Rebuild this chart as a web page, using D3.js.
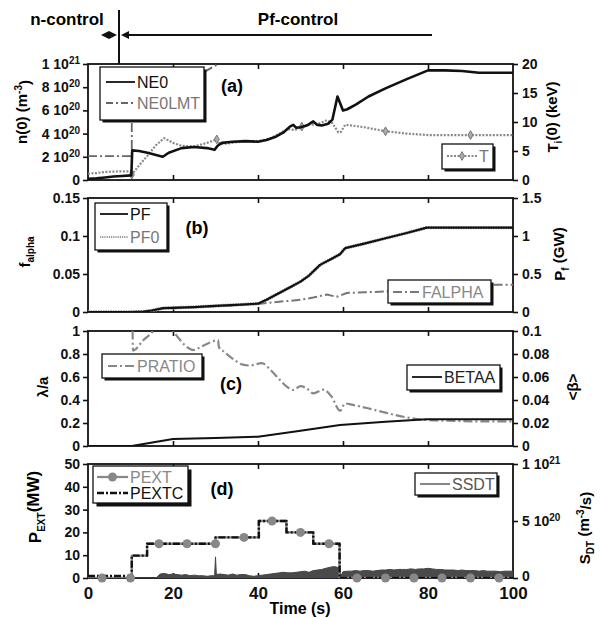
<!DOCTYPE html>
<html><head><meta charset="utf-8">
<script src="https://cdn.jsdelivr.net/npm/d3@7"></script>
<style>
body{margin:0;background:#fff;}
text{font-family:"Liberation Sans",Arial,sans-serif;}
</style></head>
<body><svg id="c" width="600" height="618"></svg>
<script>
// ---------------- DATA ----------------
// Panel (a): NE0 (1e20 m^-3), NE0LMT (1e20 m^-3), T (keV)
const ne0Time = [0,2,4,6,8,10.2,10.4,12,14,16,17.6,19,22,25,28,29.8,30.5,31.5,34,37,40,42,44,46,47.5,48.3,49,50,51.5,53,54,55,56.5,57.5,58.7,60,61,63,66,70,75,80,84,88,92,100];
const ne0Val  = [0.1,0.15,0.22,0.3,0.35,0.4,2.55,2.5,2.35,2.15,2.0,2.35,2.75,2.85,2.75,2.6,2.95,3.2,3.3,3.35,3.3,3.45,3.7,4.1,4.6,4.75,4.5,4.55,4.7,5.05,4.75,4.7,4.85,5.2,7.2,6.0,6.1,6.5,7.2,7.9,8.7,9.45,9.45,9.4,9.25,9.25];
const ne0lmtTime = [0,10.3,10.3,30.6,40];
const ne0lmtVal  = [2.05,2.05,5.7,10.0,12];
const tTime = [0,2,4,6,8,10,10.3,12,14,16,17.9,19,20,22,25,28,30.3,31,33,36,40,43,45,47,48.7,50.3,52,54,56.2,57.5,58.9,59.5,60.5,62,65,70,75,80,85,90,95,100];
const tVal  = [1.1,1.2,1.4,1.45,1.5,1.5,0.9,2.5,4.2,6.0,7.2,6.8,6.4,5.9,5.8,6.4,7.0,6.2,6.3,6.6,6.7,7.2,8.0,8.8,8.6,9.2,9.5,9.6,10.3,9.8,8.2,8.3,9.5,9.4,9.1,8.4,8.0,7.75,7.75,7.75,7.75,7.75];
const tMarkTime = [10.3,30.3,50.3,70,90];
const tMarkVal  = [0.9,7.0,9.2,8.4,7.75];
// Panel (b): PF (GW), FALPHA
const pfTime = [0,10,13,15,17.7,20,25,30,35,40,42,45,48,50,52,54.6,57,59.3,60.5,65,70,75,79.7,85,90,100];
const pfVal  = [0,0,0.005,0.02,0.05,0.055,0.065,0.08,0.095,0.11,0.16,0.25,0.34,0.40,0.48,0.62,0.69,0.76,0.84,0.90,0.97,1.04,1.11,1.11,1.11,1.11];
const falphaTime = [0,13,17.7,20,30,40,45,50,53,56.2,58.5,60.9,65,70.3,80,90,95.3,100];
const falphaVal  = [0,0,0.005,0.0055,0.0075,0.0105,0.0135,0.016,0.019,0.023,0.020,0.025,0.026,0.027,0.030,0.034,0.036,0.036];
// Panel (c): PRATIO (lambda/a), BETAA (<beta>)
const pratioTime = [10.4,10.6,13,15.3,17,19,20.1,21.5,23,24.8,27,30.6,30.8,32,34,36.2,38,40.9,43,45,47,48.3,50,51.5,53,55.4,57.3,59.3,60.5,62,65.6,70,73.4,79.7,85,90,95,100];
const pratioVal  = [1.3,0.83,0.92,1.0,1.1,1.08,1.0,0.93,0.87,0.835,0.87,0.92,0.86,0.82,0.76,0.71,0.70,0.72,0.66,0.58,0.51,0.487,0.52,0.50,0.458,0.49,0.43,0.307,0.37,0.36,0.33,0.29,0.26,0.226,0.22,0.215,0.215,0.215];
const betaTime = [0,10.3,20,30,40,50,59.3,70,79.7,90,100];
const betaVal  = [0,0,0.0061,0.007,0.0081,0.0133,0.0183,0.021,0.0232,0.0232,0.0232];
// Panel (d): PEXT, PEXTC (MW), SSDT (1e20 m^-3/s)
const pextTime = [0,10.3,13.9,30,40.2,46.7,53,59.2,100];
const pextcVal = [0.9,9.8,15,17.8,25,20,15,0,0];
const pextVal  = [0,9.8,15,17.8,25,20,15,0,0];
const pextMarkTime = [3.3,10,16.7,23.3,30,36.7,43.3,50,56.7,63.3,70,76.7,83.3,90,96.7];
const pextMarkVal  = [0,0,15,15,15,17.8,25,20,15,0,0,0,0,0,0];
const ssdtTime = [0,16,17,18,19,20,21,22,23,24,25,26,27,28,29,29.8,30,30.2,31,32,33,34,35,36,37,38,39,40,41,42,43,44,45,46,47,48,49,50,51,52,53,54,55,56,57,58,59,59.5,60,61,62,63,64,65,66,67,68,69,70,71,72,73,74,75,76,77,78,79,80,81,82,83,84,85,86,87,88,89,90,91,92,93,94,95,96,97,98,99,100];
const ssdtVal  = [0,0,.35,.4,.3,.35,.3,.25,.3,.2,.25,.2,.2,.15,.2,.2,1.85,.3,.35,.3,.25,.35,.25,.3,.3,.2,.15,.2,.25,.3,.35,.4,.45,.5,.45,.45,.5,.55,.6,.5,.65,.7,.75,.85,.95,1.0,.9,.2,.55,.6,.6,.65,.6,.65,.65,.6,.65,.7,.7,.75,.7,.75,.75,.75,.8,.75,.8,.8,.85,.8,.75,.75,.7,.7,.7,.65,.7,.65,.65,.65,.6,.65,.6,.6,.6,.55,.6,.6,.6];
// Ticks
const xTicks = [0,20,40,60,80,100];
const aLeftTicks = [0,2,4,6,8,10], aLeftLabels = ["0","2 10^20","4 10^20","6 10^20","8 10^20","1 10^21"];
const aRightTicks = [0,5,10,15,20], aRightLabels = ["0","5","10","15","20"];
const bLeftTicks = [0,0.05,0.1,0.15], bLeftLabels = ["0","0.05","0.1","0.15"];
const bRightTicks = [0,0.5,1,1.5], bRightLabels = ["0","0.5","1","1.5"];
const cLeftTicks = [0,0.2,0.4,0.6,0.8,1], cLeftLabels = ["0","0.2","0.4","0.6","0.8","1"];
const cRightTicks = [0,0.02,0.04,0.06,0.08,0.1], cRightLabels = ["0","0.02","0.04","0.06","0.08","0.1"];
const dLeftTicks = [0,10,20,30,40,50], dLeftLabels = ["0","10","20","30","40","50"];
const dRightTicks = [0,5,10], dRightLabels = ["0","5 10^20","1 10^21"];

// ---------------- DRAW ----------------
const svg = d3.select("#c");
const x = d3.scaleLinear([0,100],[88,513]);
const panels = [
 {top:64,bottom:180,l:[0,10],r:[0,20],lt:aLeftTicks,ll:aLeftLabels,rt:aRightTicks,rl:aRightLabels},
 {top:198,bottom:312,l:[0,0.15],r:[0,1.5],lt:bLeftTicks,ll:bLeftLabels,rt:bRightTicks,rl:bRightLabels},
 {top:331,bottom:446,l:[0,1],r:[0,0.1],lt:cLeftTicks,ll:cLeftLabels,rt:cRightTicks,rl:cRightLabels},
 {top:464,bottom:578,l:[0,50],r:[0,10],lt:dLeftTicks,ll:dLeftLabels,rt:dRightTicks,rl:dRightLabels}
];
const defs = svg.append("defs");
panels.forEach((p,i)=>{
  p.yl = d3.scaleLinear(p.l,[p.bottom,p.top]);
  p.yr = d3.scaleLinear(p.r,[p.bottom,p.top]);
  defs.append("clipPath").attr("id","clip"+i).append("rect")
    .attr("x",88).attr("y",p.top).attr("width",425).attr("height",p.bottom-p.top);
});

function fmtLabel(sel, s){
  sel.text(null);
  const m = s.match(/^(.*)\^(\d+)$/);
  if(m){
    sel.append("tspan").text(m[1]);
    sel.append("tspan").attr("dy","-0.5em").attr("font-size","10px").text(m[2]);
  } else sel.text(s);
}

panels.forEach((p,i)=>{
  const g = svg.append("g");
  const la = g.append("g").attr("transform","translate(88,0)")
    .call(d3.axisLeft(p.yl).tickValues(p.lt).tickSize(5).tickPadding(3).tickFormat((d,k)=>p.ll[k]));
  const ra = g.append("g").attr("transform","translate(513,0)")
    .call(d3.axisRight(p.yr).tickValues(p.rt).tickSize(5).tickPadding(4).tickFormat((d,k)=>p.rl[k]));
  g.append("g").attr("transform",`translate(0,${p.bottom})`)
    .call(d3.axisTop(x).tickValues([20,40,60,80]).tickSize(5).tickFormat(""));
  g.append("g").attr("transform",`translate(0,${p.top})`)
    .call(d3.axisBottom(x).tickValues([20,40,60,80]).tickSize(5).tickFormat(""));
  g.selectAll(".domain").remove();
  g.selectAll(".tick line").attr("stroke","#111").attr("stroke-width",1.6);
  [la,ra].forEach(a=>{
    a.selectAll("text").attr("font-size","14px").attr("font-weight","bold").attr("fill","#111")
     .each(function(d,k){ fmtLabel(d3.select(this), (a===la?p.ll:p.rl)[k]); });
  });
  if(i===3) ra.selectAll("text").filter((d,k)=>k===0).attr("dy","0.2em");
  g.append("rect").attr("x",88).attr("y",p.top).attr("width",425).attr("height",p.bottom-p.top)
    .attr("fill","none").attr("stroke","#111").attr("stroke-width",1.8);
});

// x axis labels
const xa = svg.append("g").attr("transform","translate(0,578)")
  .call(d3.axisBottom(x).tickValues(xTicks).tickSize(0).tickPadding(9).tickFormat(d3.format("d")));
xa.select(".domain").remove();
xa.selectAll("text").attr("font-size","17px").attr("font-weight","bold").attr("fill","#111");
svg.append("text").attr("x",300).attr("y",614).attr("text-anchor","middle")
  .attr("font-size","16px").attr("font-weight","bold").text("Time (s)");

function series(i, xs, ys, yScale, opts){
  const line = d3.line().x((d,k)=>x(xs[k])).y((d,k)=>yScale(ys[k])).curve(opts.curve||d3.curveLinear);
  svg.append("path").attr("clip-path",`url(#clip${i})`).attr("d", line(xs))
    .attr("fill","none").attr("stroke",opts.color).attr("stroke-width",opts.width||2)
    .attr("stroke-dasharray",opts.dash||null).attr("stroke-linejoin","round");
}
const P = panels;
// Panel a
series(0, ne0lmtTime, ne0lmtVal, P[0].yl, {color:"#666",width:1.8,dash:"9,3,2,3"});
series(0, tTime, tVal, P[0].yr, {color:"#888",width:2.2,dash:"2,1.5"});
svg.append("g").selectAll("path").data(tMarkTime).join("path")
  .attr("transform",(d,k)=>`translate(${x(d)},${P[0].yr(tMarkVal[k])})`)
  .attr("d",d3.symbol(d3.symbolDiamond,22)).attr("fill","#aaa").attr("stroke","#777").attr("stroke-width",1);
series(0, ne0Time, ne0Val, P[0].yl, {color:"#111",width:2.6});
// Panel b
series(1, falphaTime, falphaVal, P[1].yl, {color:"#777",width:2,dash:"9,3,2,3"});
series(1, pfTime, pfVal, P[1].yr, {color:"#999",width:3.4,dash:"1.5,1"});
series(1, pfTime, pfVal, P[1].yr, {color:"#111",width:2.2});
// Panel c
series(2, pratioTime, pratioVal, P[2].yl, {color:"#888",width:2.2,dash:"9,3,2,3",curve:d3.curveMonotoneX});
series(2, betaTime, betaVal, P[2].yr, {color:"#111",width:2});
// Panel d
const ssdtArea = d3.area().x((d,k)=>x(ssdtTime[k])).y0(P[3].yr(0)).y1((d,k)=>P[3].yr(ssdtVal[k]));
svg.append("path").attr("clip-path","url(#clip3)").attr("d",ssdtArea(ssdtTime)).attr("fill","#4a4a4a");
series(3, ssdtTime, ssdtVal, P[3].yr, {color:"#444",width:1});
series(3, pextTime, pextVal, P[3].yl, {color:"#888",width:2.4,curve:d3.curveStepAfter});
series(3, pextTime, pextcVal, P[3].yl, {color:"#111",width:2.4,dash:"7,2,2,2",curve:d3.curveStepAfter});
svg.append("g").selectAll("circle").data(pextMarkTime).join("circle")
  .attr("cx",d=>x(d)).attr("cy",(d,k)=>P[3].yl(pextMarkVal[k])).attr("r",4.5).attr("fill","#888");

// ---------------- LEGENDS ----------------
function legend(bx,by,w,h,entries,sh){
  const g = svg.append("g");
  g.append("rect").attr("x",bx+sh).attr("y",by+sh).attr("width",w).attr("height",h).attr("fill","#111");
  g.append("rect").attr("x",bx).attr("y",by).attr("width",w).attr("height",h).attr("fill","#fff")
    .attr("stroke","#111").attr("stroke-width",1.3);
  entries.forEach(e=>{
    g.append("line").attr("x1",e.x1).attr("x2",e.x2).attr("y1",e.y).attr("y2",e.y)
      .attr("stroke",e.color).attr("stroke-width",e.width||1.8).attr("stroke-dasharray",e.dash||null);
    if(e.marker==="circle") g.append("circle").attr("cx",(e.x1+e.x2)/2).attr("cy",e.y).attr("r",4.5).attr("fill",e.color);
    if(e.marker==="diamond") g.append("path").attr("transform",`translate(${(e.x1+e.x2)/2},${e.y})`)
      .attr("d",d3.symbol(d3.symbolDiamond,22)).attr("fill","#aaa").attr("stroke","#777");
    g.append("text").attr("x",e.x2+2).attr("y",e.y).attr("dy","0.36em").attr("font-size","16px")
      .attr("fill",e.tcolor).text(e.label);
  });
}
legend(100,67,104,53,[
  {x1:106,x2:135,y:82,color:"#111",label:"NE0",tcolor:"#111"},
  {x1:106,x2:135,y:103,color:"#666",dash:"7,3,2,3",label:"NE0LMT",tcolor:"#777"}],2.5);
legend(442,144,51,25,[{x1:447,x2:477,y:156,color:"#888",dash:"2,1.5",marker:"diamond",label:"T",tcolor:"#777"}],2.5);
legend(95,203,72,47,[
  {x1:100,x2:128,y:214,color:"#111",label:"PF",tcolor:"#111"},
  {x1:100,x2:128,y:237,color:"#777",dash:"1.2,1",width:1.5,label:"PF0",tcolor:"#777"}],2.5);
legend(388,280,103,23,[{x1:393,x2:420,y:292,color:"#777",dash:"9,3,2,3",label:"FALPHA",tcolor:"#888"}],2.5);
legend(102,354,100,24,[{x1:108,x2:135,y:366,color:"#888",dash:"9,3,2,3",label:"PRATIO",tcolor:"#888"}],2.5);
legend(407,365,93,25,[{x1:412,x2:442,y:377,color:"#111",label:"BETAA",tcolor:"#222"}],2.5);
legend(93,466,95,37,[
  {x1:97,x2:128,y:477,color:"#888",marker:"circle",width:2.2,label:"PEXT",tcolor:"#888"},
  {x1:97,x2:128,y:493,color:"#111",dash:"7,2,2,2",width:2.4,label:"PEXTC",tcolor:"#111"}],3.5);
legend(415,473,82,22,[{x1:420,x2:450,y:484,color:"#444",width:1.3,label:"SSDT",tcolor:"#555"}],2.5);

// panel letters
[["(a)",232,86],["(b)",197,228],["(c)",231,384],["(d)",222,489]].forEach(d=>{
  svg.append("text").attr("x",d[1]).attr("y",d[2]).attr("dy","0.36em").attr("text-anchor","middle")
    .attr("font-size","18px").attr("font-weight","bold").text(d[0]);
});

// axis titles
function vtitle(cx,cy,parts,fs){
  const t = svg.append("text").attr("transform",`translate(${cx},${cy}) rotate(-90)`)
    .attr("text-anchor","middle").attr("dy","0.36em").attr("font-size",(fs||15)+"px").attr("font-weight","bold");
  parts.forEach(p=>{
    const s = t.append("tspan").text(p[0]);
    if(p[1]==="sup") s.attr("dy","-0.5em").attr("font-size","10px");
    if(p[1]==="sub") s.attr("dy","0.35em").attr("font-size","10px");
    if(p[1]==="back") s.attr("dy","0.5em");
    if(p[1]==="backsub") s.attr("dy","-0.35em");
  });
}
vtitle(22,112,[["n(0) (m"],["-3","sup"],[")","back"]]);
vtitle(553,117,[["T"],["i","sub"],["(0) (keV)","backsub"]]);
vtitle(25,252,[["f"],["alpha","sub"]]);
vtitle(560,254,[["P"],["f","sub"],[" (GW)","backsub"]]);
vtitle(43,387,[["λ/a"]]);
vtitle(573,387,[["<β>"]]);
vtitle(35,507,[["P"],["EXT","sub"],["(MW)","backsub"]],17);
vtitle(585,528,[["S"],["DT","sub"],[" (m","backsub"],["-3","sup"],["/s)","back"]]);

// top annotation
svg.append("text").attr("x",67).attr("y",25).attr("text-anchor","middle").attr("font-size","17px")
  .attr("font-weight","bold").text("n-control");
svg.append("text").attr("x",298).attr("y",25).attr("text-anchor","middle").attr("font-size","17px")
  .attr("font-weight","bold").text("Pf-control");
svg.append("line").attr("x1",119).attr("x2",119).attr("y1",10).attr("y2",64).attr("stroke","#111").attr("stroke-width",2);
svg.append("line").attr("x1",125).attr("x2",432).attr("y1",35).attr("y2",35).attr("stroke","#111").attr("stroke-width",2);
svg.append("line").attr("x1",104).attr("x2",114).attr("y1",35).attr("y2",35).attr("stroke","#111").attr("stroke-width",2);
const ah = (tip,dir)=>svg.append("path").attr("d",`M${tip},35 L${tip+dir*8},31 L${tip+dir*8},39 Z`).attr("fill","#111");
ah(121,1); ah(101,1); ah(117,-1);
</script></body></html>
